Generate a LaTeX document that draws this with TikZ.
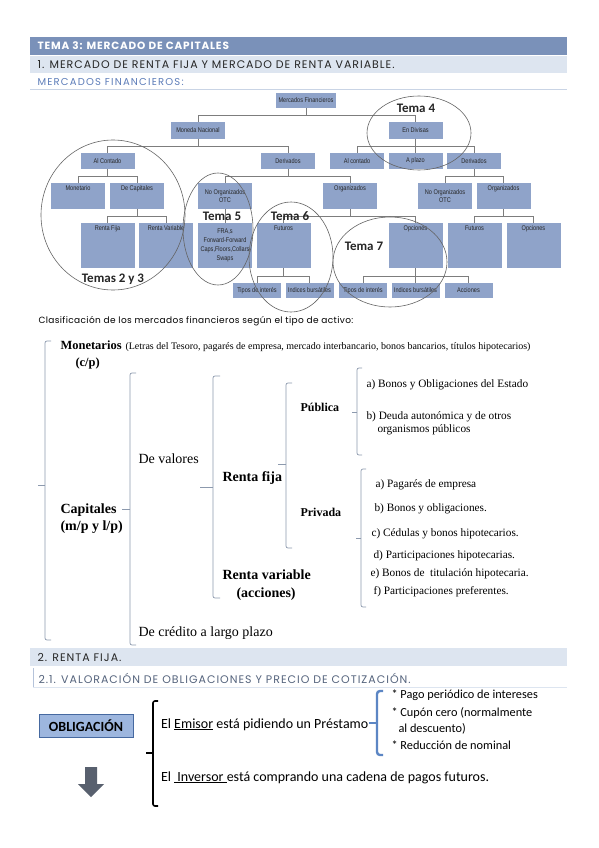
\documentclass[tikz,border=0pt]{standalone}
\usepackage{fontspec}
\setmainfont{Liberation Serif}
\newfontfamily\gothic{Poppins}
\newfontfamily\calib{Carlito}
\newfontfamily\chart[FakeStretch=0.82]{Liberation Sans}
\usepackage{xcolor}
\usetikzlibrary{positioning, calc}

\definecolor{bardark}{RGB}{122,145,185}
\definecolor{barlight}{RGB}{221,229,240}
\definecolor{headblue}{RGB}{93,125,185}
\definecolor{subgray}{RGB}{85,100,125}
\definecolor{boxfill}{RGB}{143,163,201}
\definecolor{conngray}{RGB}{125,125,125}
\definecolor{ringgray}{RGB}{100,100,100}
\definecolor{bracegray}{RGB}{140,153,173}
\definecolor{oblfill}{RGB}{157,182,222}
\definecolor{obledge}{RGB}{70,105,160}
\definecolor{arrowgray}{RGB}{88,96,110}
\definecolor{bluebrace}{RGB}{92,134,196}

\begin{document}
\begin{tikzpicture}[x=1pt, y=-1pt,
  box/.style={fill=boxfill, minimum width=54pt, minimum height=16pt, inner sep=1pt,
    font=\chart\fontsize{6.8}{7.8}\selectfont, text=black!85, align=center},
  intop/.style={anchor=north, yshift=-2pt, inner sep=1pt,
    font=\chart\fontsize{6.8}{7.8}\selectfont, text=black!85},
  conn/.style={draw=conngray, line width=0.7pt},
  ring/.style={draw=ringgray, line width=0.6pt},
  tema/.style={font=\calib\bfseries\fontsize{13}{15}\selectfont, text=black!85},
  head/.style={anchor=west, font=\gothic\addfontfeatures{LetterSpace=9}\fontsize{11}{12}\selectfont},
  brace/.style={draw=bracegray, line width=0.7pt, rounded corners=2pt},
  big/.style={anchor=base west, font=\fontsize{14}{16}\selectfont},
  bigb/.style={anchor=base west, font=\bfseries\fontsize{14}{16}\selectfont},
  mid/.style={anchor=base west, font=\bfseries\fontsize{12}{14}\selectfont},
  item/.style={anchor=base west, font=\fontsize{11.3}{13}\selectfont},
  cal/.style={anchor=base west, font=\calib\fontsize{14}{16}\selectfont},
  bul/.style={anchor=base west, font=\calib\fontsize{12.3}{14}\selectfont}]
\useasboundingbox[fill=white] (0,0) rectangle (599,848);

% headings
\fill[bardark] (30,37) rectangle (567,55);
\node[anchor=west, font=\gothic\bfseries\addfontfeatures{LetterSpace=8}\fontsize{10.5}{11}\selectfont, text=white] (tema3) at (34,46) {TEMA 3: MERCADO DE CAPITALES};
\fill[barlight] (30,56) rectangle (567,73);
\node[head, text=black!85] (sec1) at (34,64.5) {1. MERCADO DE RENTA FIJA Y MERCADO DE RENTA VARIABLE.};
\node[anchor=west, font=\gothic\addfontfeatures{LetterSpace=12}\fontsize{10}{11}\selectfont, text=headblue] (mfhead) at (34,82) {MERCADOS FINANCIEROS:};
\draw[barlight!80!bardark, line width=0.8pt] (30,89) -- (567,89);

% org chart, first rows
\node[box, minimum width=60pt, minimum height=15pt] (mf) at (306,100.5) {Mercados Financieros};
\node[box] (mn) at (198,130.5) {Moneda Nacional};
\node[box] (ed) at (415.5,130.5) {En Divisas};
\node[box] (nac) at (107.5,161) {Al Contado};
\node[box] (nder) at (288,161) {Derivados};
\node[box] (dac) at (357,161) {Al contado};
\node[box] (dpl) at (415.5,161) {A plazo};
\node[box] (dder) at (474,161) {Derivados};

% third row
\node[box, minimum height=26pt, label={[intop]north:Monetario}] (mon) at (78,196) {};
\node[box, minimum height=26pt, label={[intop]north:De Capitales}] (cap) at (137,196) {};
\node[box, minimum height=26pt] (notc) at (225,196) {No Organizados\\OTC};
\node[box, minimum height=26pt, label={[intop]north:Organizados}] (norg) at (350,196) {};
\node[box, minimum height=26pt] (dotc) at (445,196) {No Organizados\\OTC};
\node[box, minimum height=26pt, label={[intop]north:Organizados}] (dorg) at (503.5,196) {};

% fourth row
\node[box, minimum height=45pt, label={[intop]north:Renta Fija}] (rf) at (107.5,245.5) {};
\node[box, minimum height=45pt, label={[intop]north:Renta Variable}] (rv) at (166,245.5) {};
\node[box, minimum height=45pt] (fra) at (225,245.5) {FRA,s\\[1pt]Forward-Forward\\[1pt]Caps,Floors,Collars\\[1pt]Swaps};
\node[box, minimum height=45pt, label={[intop]north:Futuros}] (nfut) at (283.5,245.5) {};
\node[box, minimum height=45pt, label={[intop]north:Opciones}] (nopc) at (415.5,245.5) {};
\node[box, minimum height=45pt, label={[intop]north:Futuros}] (dfut) at (474.5,245.5) {};
\node[box, minimum height=45pt, label={[intop]north:Opciones}] (dopc) at (533.5,245.5) {};

% last row
\node[box, minimum width=48pt, minimum height=15pt] (ti1) at (257,290.5) {Tipos de interés};
\node[box, minimum width=48pt, minimum height=15pt] (ib1) at (309.5,290.5) {Indices bursátiles};
\node[box, minimum width=48pt, minimum height=15pt] (ti2) at (363,290.5) {Tipos de interés};
\node[box, minimum width=48pt, minimum height=15pt] (ib2) at (415.5,290.5) {Indices bursátiles};
\node[box, minimum width=48pt, minimum height=15pt] (acc) at (468.5,290.5) {Acciones};

% connectors
\draw[conn] (mf.south) -- ++(0,7) -| (mn.north);
\draw[conn] (mf.south) -- ++(0,7) -| (ed.north);
\draw[conn] (mn.south) -- ++(0,8) -| (nac.north);
\draw[conn] (mn.south) -- ++(0,8) -| (nder.north);
\draw[conn] (ed.south) -- ++(0,8) -| (dac.north);
\draw[conn] (ed.south) -- (dpl.north);
\draw[conn] (ed.south) -- ++(0,8) -| (dder.north);
\draw[conn] (nac.south) -- ++(0,7) -| (mon.north);
\draw[conn] (nac.south) -- ++(0,7) -| (cap.north);
\draw[conn] (nder.south) -- ++(0,7) -| (notc.north);
\draw[conn] (nder.south) -- ++(0,7) -| (norg.north);
\draw[conn] (dder.south) -- ++(0,7) -| (dotc.north);
\draw[conn] (dder.south) -- ++(0,7) -| (dorg.north);
\draw[conn] (cap.south) -- ++(0,7) -| (rf.north);
\draw[conn] (cap.south) -- ++(0,7) -| (rv.north);
\draw[conn] (notc.south) -- (fra.north);
\draw[conn] (norg.south) -- ++(0,7) -| (nfut.north);
\draw[conn] (norg.south) -- ++(0,7) -| (nopc.north);
\draw[conn] (dorg.south) -- ++(0,7) -| (dfut.north);
\draw[conn] (dorg.south) -- ++(0,7) -| (dopc.north);
\draw[conn] (nfut.south) -- ++(0,8) -| (ti1.north);
\draw[conn] (nfut.south) -- ++(0,8) -| (ib1.north);
\draw[conn] (nopc.south) -- ++(0,8) -| (ti2.north);
\draw[conn] (nopc.south) -- (ib2.north);
\draw[conn] (nopc.south) -- ++(0,8) -| (acc.north);

% circles round the topics
\draw[ring] (419,133) ellipse (52 and 37);
\draw[ring] (113,215) ellipse (72 and 75);
\draw[ring] (218,229) ellipse (35 and 56);
\draw[ring] (291,257) ellipse (42 and 55);
\draw[ring] (390,262) ellipse (57 and 45);
\node[tema] (tema4) at (416,108) {Tema 4};
\node[tema] (tema23) at (113,279) {Temas 2 y 3};
\node[tema] (tema5) at (222,216) {Tema 5};
\node[tema] (tema6) at (290,216) {Tema 6};
\node[tema] (tema7) at (364,246) {Tema 7};

% classification
\node[anchor=west, font=\gothic\addfontfeatures{LetterSpace=4}\fontsize{9}{10}\selectfont] (clas) at (35,321) {Clasificación de los mercados financieros según el tipo de activo:};
\draw[brace] (51,341) -- (45,341) -- (45,640) -- (51,640);
\draw[brace] (45,485) -- (38,485);
\draw[brace] (136,373) -- (130,373) -- (130,645) -- (136,645);
\draw[brace] (130,509) -- (122,509);
\draw[brace] (220,376) -- (213,376) -- (213,598) -- (220,598);
\draw[brace] (213,487) -- (200,487);
\draw[brace] (292,383) -- (286,383) -- (286,548) -- (292,548);
\draw[brace] (286,464) -- (278,464);
\draw[brace] (362,368) -- (357,368) -- (357,455) -- (362,455);
\draw[brace] (357,412) -- (352,412);
\draw[brace] (366,469) -- (361,469) -- (361,607) -- (366,607);
\draw[brace] (361,538) -- (356,538);

\node[mid, font=\bfseries\fontsize{12.5}{14}\selectfont] (monet) at (57,349) {Monetarios};
\node[anchor=base west, font=\fontsize{10}{11}\selectfont] (monlist) at (122,349) {(Letras del Tesoro, pagarés de empresa, mercado interbancario, bonos bancarios, títulos hipotecarios)};
\node[mid, font=\bfseries\fontsize{12.5}{14}\selectfont] (cp) at (72,366) {(c/p)};
\node[bigb] (capit) at (57,513) {Capitales};
\node[bigb] (mplp) at (57,530) {(m/p y l/p)};
\node[big] (valores) at (135,463) {De valores};
\node[big] (credito) at (135,636) {De crédito a largo plazo};
\node[bigb] (rfija) at (219,481) {Renta fija};
\node[bigb] (rvar) at (219,579) {Renta variable};
\node[bigb] (acciones) at (233,597) {(acciones)};
\node[mid] (publica) at (297,411) {Pública};
\node[mid] (privada) at (297,516) {Privada};
\node[item] (pa) at (363,387) {a) Bonos y Obligaciones del Estado};
\node[item] (pb) at (363,419) {b) Deuda autonómica y de otros};
\node[item] (pb2) at (374,432) {organismos públicos};
\node[item] (qa) at (372,487) {a) Pagarés de empresa};
\node[item] (qb) at (371,511) {b) Bonos y obligaciones.};
\node[item] (qc) at (368,536) {c) Cédulas y bonos hipotecarios.};
\node[item] (qd) at (370,558) {d) Participaciones hipotecarias.};
\node[item] (qe) at (367,576) {e) Bonos de\ \ titulación hipotecaria.};
\node[item] (qf) at (370,594) {f) Participaciones preferentes.};

% renta fija section
\fill[barlight] (30,648) rectangle (567,666);
\node[head, text=black!85] (sec2) at (34,657) {2. RENTA FIJA.};
\draw[barlight!60!bardark, line width=1pt] (33,668) -- (33,687);
\draw[barlight, line width=0.8pt] (33,687) -- (567,687);
\node[head, text=subgray] (sec21) at (35,678) {2.1. VALORACIÓN DE OBLIGACIONES Y PRECIO DE COTIZACIÓN.};

\node[draw=obledge, fill=oblfill, line width=1pt, minimum width=94pt, minimum height=23pt, inner sep=1pt,
  font=\calib\bfseries\fontsize{14}{16}\selectfont] (oblig) at (86,726) {OBLIGACIÓN};
\fill[arrowgray] (85,767) -- (97,767) -- (97,784) -- (104,784) -- (91,797) -- (78,784) -- (85,784) -- cycle;

\draw[line width=1.6pt, rounded corners=2pt] (158,701) -- (153,701) -- (153,806) -- (158,806);
\draw[line width=1.6pt] (153,753) -- (146,753);
\node[cal] (emisor) at (157.5,728) {El \underline{Emisor} está pidiendo un Préstamo};
\node[cal] (inversor) at (157.5,781) {El \underline{\ Inversor\ }está comprando una cadena de pagos futuros.};

\draw[bluebrace, line width=2.4pt, rounded corners=3pt] (383,691) -- (377,691) -- (377,755) -- (383,755);
\draw[bluebrace, line width=1.2pt] (377,723) -- (369,723);
\node[bul] (b1) at (388,698) {* Pago periódico de intereses};
\node[bul] (b2) at (388,716) {* Cupón cero (normalmente};
\node[bul] (b3) at (395,732) {al descuento)};
\node[bul] (b4) at (388,749) {* Reducción de nominal};
\end{tikzpicture}
\end{document}
